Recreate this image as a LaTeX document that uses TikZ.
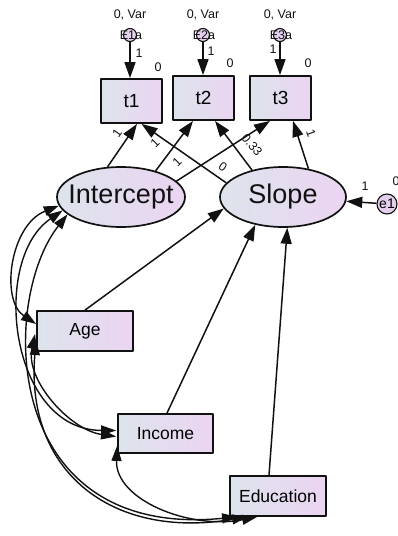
\documentclass[tikz,border=0pt]{standalone}
\usepackage{fontspec}
\setmainfont{Liberation Sans}
\usetikzlibrary{arrows.meta,shapes.geometric,calc}
\definecolor{fillL}{HTML}{DDE4EC}
\definecolor{fillR}{HTML}{EBD4F2}
\definecolor{errfill}{HTML}{E4D0EE}
\definecolor{ink}{HTML}{111111}
\begin{document}
\begin{tikzpicture}[x=1pt,y=-1pt,
  line join=round,
  arr/.style={-{Triangle[length=16pt,width=11pt]}, line width=1.5pt, draw=ink},
  cov/.style={{Triangle[length=15pt,width=10pt]}-{Triangle[length=15pt,width=10pt]}, line width=1.4pt, draw=ink},
  obsbox/.style={draw=ink, line width=1.8pt, left color=fillL, right color=fillR,
    inner sep=0pt, font=\fontsize{17.5}{18}\selectfont},
  tbox/.style={obsbox, minimum width=61pt, minimum height=44pt, font=\fontsize{19}{20}\selectfont},
  latent/.style={ellipse, draw=ink, line width=1.7pt, left color=fillL, right color=fillR,
    inner sep=0pt, minimum height=60pt},
  errc/.style={circle, draw=ink, line width=1.1pt, fill=errfill, inner sep=0pt},
  small/.style={font=\fontsize{12.5}{13}\selectfont, inner sep=0pt, text=ink},
  big/.style={font=\fontsize{27}{28}\selectfont, text=ink}
]
\useasboundingbox (0,0) rectangle (397,536);

% observed measurements
\node[tbox] (t1) at (131.5,101) {t1};
\node[tbox] (t2) at (203.5,98) {t2};
\node[tbox] (t3) at (280.5,98) {t3};

% growth factors
\node[latent, minimum width=128pt, label={[big]center:Intercept}] (Int) at (121,197) {};
\node[latent, minimum width=126pt, label={[big]center:Slope}] (Slp) at (283,197) {};

% covariates
\node[obsbox, minimum width=96pt, minimum height=40pt] (Age) at (85,331) {Age};
\node[obsbox, minimum width=95pt, minimum height=39pt] (Inc) at (165.5,433.5) {Income};
\node[obsbox, minimum width=96pt, minimum height=40pt] (Edu) at (278,496) {Education};

% measurement errors
\foreach \i/\x in {1/130,2/203,3/280}{
  \node[errc, minimum size=13pt] (E\i) at (\x,35) {};
  \node[small] at (\x+1,35) {E\i a};
  \node[small] at (\x,15) {0, Var};
  \draw[arr] (E\i) -- (E\i |- t\i.north);
}
\node[small] at (139,53) {1};
\node[small] at (158,67) {0};
\node[small] at (211,51) {1};
\node[small] at (230,63) {0};
\node[small] at (273,49) {1};
\node[small] at (308,63) {0};

% disturbance of the slope
\node[errc, minimum size=20pt, font=\fontsize{14}{14}\selectfont] (e1) at (387,204) {e1};
\draw[arr] (e1) -- (Slp);
\node[small] at (365,186) {1};
\node[small] at (396,181) {0};

% factor loadings
\draw[arr] (Int.114) -- ($(t1.south)+(5.5,0)$);
\draw[arr] (Int.37) -- ($(t2.south)+(-10.5,0)$);
\draw[arr] (Int.16.5) -- ($(t3.south)+(-10.5,0)$);
\draw[arr] (Slp.166) -- ($(t1.south)+(10,0)$);
\draw[arr] (Slp.139) -- ($(t2.south)+(11.5,0)$);
\draw[arr] (Slp.48) -- ($(t3.south)+(12.5,0)$);
\node[small, rotate=55] at (117,133) {1};
\node[small, rotate=45] at (155,143) {1};
\node[small, rotate=45] at (177,162) {1};
\node[small, rotate=-34] at (223,167) {0};
\node[small, rotate=-50] at (252,145) {0.33};
\node[small, rotate=-70] at (311,133) {1};

% regressions of the slope on the covariates
\draw[arr] (Age.north) -- (Slp.191);
\draw[arr] ($(Inc.north)+(1.5,0)$) -- (Slp.225);
\draw[arr] ($(Edu.north)+(-9,0)$) -- (Slp.278);

% covariances
\coordinate (Aa) at ($(Age.west)+(0,-7)$);
\coordinate (Ab) at ($(Age.west)+(-1,3)$);
\coordinate (Ac) at ($(Age.west)+(0,9)$);
\coordinate (Na) at ($(Inc.west)+(-1,-3)$);
\coordinate (Nb) at ($(Inc.west)+(-1,3)$);
\coordinate (Nc) at ($(Inc.south west)+(0,-8)$);
\coordinate (Da) at ($(Edu.south west)+(8,0)$);
\coordinate (Db) at ($(Edu.south west)+(18,0)$);
\coordinate (Dc) at ($(Edu.south west)+(28,0)$);

\draw[cov] (Int.188) .. controls (10,225) and (0,300) .. (Aa);
\draw[cov] (Int.193) .. controls (-10,260) and (10,430) .. (Na);
\draw[cov] (Int.198) .. controls (0,300) and (0,540) .. (Da);
\draw[cov] (Ab) .. controls (25,380) and (70,430) .. (Nb);
\draw[cov] (Ac) .. controls (25,470) and (110,540) .. (Db);
\draw[cov] (Nc) .. controls (115,500) and (190,530) .. (Dc);
\end{tikzpicture}
\end{document}
